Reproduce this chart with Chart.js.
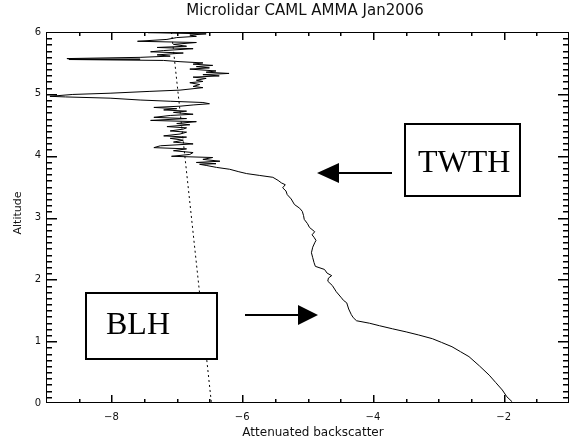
<!DOCTYPE html>
<html>
<head>
<meta charset="utf-8">
<script src="https://cdn.jsdelivr.net/npm/chart.js@4/dist/chart.umd.min.js"></script>
<style>
  body { margin: 0; background: #fff; }
  #wrap { width: 574px; height: 441px; position: relative; }
</style>
</head>
<body>
<div id="wrap"><canvas id="lidarChart"></canvas></div>
<script>
// Profil lidar (altitude km, backscatter log)
const altitude = [
  6.00, 5.99, 5.97, 5.95, 5.93, 5.91, 5.88, 5.85, 5.83, 5.80, 5.77, 5.75, 5.73, 5.70, 5.68, 5.66,
  5.63, 5.61, 5.59, 5.57, 5.565, 5.56, 5.555, 5.54, 5.52, 5.50, 5.48, 5.46, 5.44, 5.42, 5.40, 5.37,
  5.35, 5.33, 5.31, 5.29, 5.27, 5.25, 5.22, 5.20, 5.18, 5.15, 5.12, 5.10, 5.06, 5.04, 5.01, 4.99,
  4.96, 4.95, 4.93, 4.90, 4.88, 4.86, 4.84, 4.82, 4.80, 4.78, 4.76, 4.74, 4.72, 4.70, 4.67, 4.65,
  4.62, 4.60, 4.57, 4.55, 4.52, 4.50, 4.47, 4.45, 4.43, 4.40, 4.38, 4.35, 4.32, 4.30, 4.28, 4.25,
  4.22, 4.19, 4.16, 4.13, 4.11, 4.08, 4.05, 4.02, 3.99, 3.97, 3.94, 3.91, 3.89, 3.87, 3.86, 3.84,
  3.81, 3.78, 3.74, 3.71, 3.68, 3.65, 3.60, 3.56, 3.53, 3.48, 3.43, 3.37, 3.30, 3.21, 3.15, 3.10,
  3.03, 2.97, 2.90, 2.84, 2.77, 2.72, 2.68, 2.63, 2.59, 2.52, 2.43, 2.35, 2.27, 2.21, 2.16, 2.10,
  2.06, 2.02, 1.97, 1.90, 1.80, 1.70, 1.66, 1.62, 1.52, 1.43, 1.38, 1.33, 1.29, 1.25, 1.20, 1.15,
  1.10, 1.04, 0.98, 0.91, 0.83, 0.75, 0.60, 0.45, 0.33, 0.21, 0.10, 0.02
];
const backscatter = [
  -6.50, -7.44, -6.55, -6.80, -6.70, -7.00, -7.15, -7.60, -6.70, -7.05, -6.85, -7.30, -6.75, -7.20, -7.40, -6.90,
  -7.30, -7.10, -7.56, -8.68, -8.60, -7.56, -8.65, -7.20, -6.95, -6.60, -6.75, -6.45, -6.70, -6.50, -6.80, -6.40,
  -6.55, -6.20, -6.60, -6.35, -6.75, -6.55, -6.70, -6.60, -6.80, -6.65, -6.75, -6.60, -6.95, -7.41, -8.02, -8.59,
  -8.94, -8.70, -8.02, -7.56, -7.10, -6.60, -6.50, -6.75, -6.95, -7.35, -7.00, -7.20, -6.85, -7.05, -6.75, -7.10,
  -7.35, -6.85, -7.40, -6.70, -7.00, -6.80, -7.15, -6.85, -6.90, -7.10, -6.85, -6.95, -7.20, -6.85, -7.10, -6.90,
  -7.05, -6.75, -7.25, -7.35, -6.85, -7.05, -6.75, -6.80, -7.08, -6.45, -6.60, -6.34, -6.70, -6.40, -6.65, -6.54,
  -6.39, -6.19, -6.05, -5.93, -5.73, -5.53, -5.45, -5.40, -5.34, -5.38, -5.33, -5.31, -5.25, -5.20, -5.12, -5.08,
  -5.06, -5.05, -5.00, -4.97, -4.89, -4.93, -4.90, -4.87, -4.89, -4.92, -4.94, -4.92, -4.90, -4.88, -4.74, -4.70,
  -4.63, -4.68, -4.69, -4.62, -4.56, -4.48, -4.45, -4.40, -4.37, -4.33, -4.30, -4.25, -4.05, -3.90, -3.70, -3.49,
  -3.30, -3.09, -2.95, -2.79, -2.66, -2.53, -2.37, -2.22, -2.12, -2.02, -1.95, -1.87
];

// Signal moleculaire (pointillés)
const molAltitude = [6.0, 0.0];
const molBackscatter = [-7.08, -6.47];

// Ticks
const xTickValues = [-8, -6, -4, -2];
const yTickValues = [0, 1, 2, 3, 4, 5, 6];

const profilePoints = altitude.map((a, i) => ({ x: backscatter[i], y: a }));
const molPoints = molAltitude.map((a, i) => ({ x: molBackscatter[i], y: a }));

// Dessine titres, annotations puis le cadre style IDL
const idlFrame = {
  id: "idlFrame",
  afterDraw(chart) {
    const ctx = chart.ctx;
    const area = chart.chartArea;
    const left = area.left, right = area.right, top = area.top, bottom = area.bottom;

    // titres
    ctx.save();
    ctx.fillStyle = "#111";
    ctx.textAlign = "center";
    ctx.textBaseline = "middle";
    ctx.font = "15px 'DejaVu Sans'";
    ctx.fillText("Microlidar CAML AMMA Jan2006", 305, 11);
    ctx.font = "12px 'DejaVu Sans'";
    ctx.fillText("Attenuated backscatter", 313, 433);
    ctx.save();
    ctx.translate(18, 213);
    ctx.rotate(-Math.PI / 2);
    ctx.font = "11px 'DejaVu Sans'";
    ctx.fillText("Altitude", 0, 0);
    ctx.restore();

    // annotations
    ctx.lineWidth = 2;
    ctx.strokeStyle = "#000";
    ctx.fillStyle = "#fff";
    ctx.fillRect(405, 124, 115, 72);
    ctx.strokeRect(405, 124, 115, 72);
    ctx.fillRect(86, 293, 131, 66);
    ctx.strokeRect(86, 293, 131, 66);

    ctx.fillStyle = "#000";
    ctx.font = "32px 'Liberation Serif'";
    ctx.textAlign = "left";
    ctx.textBaseline = "alphabetic";
    ctx.fillText("TWTH", 418, 172);
    ctx.fillText("BLH", 106, 334);

    // fleches
    ctx.beginPath();
    ctx.moveTo(392, 173); ctx.lineTo(336, 173);
    ctx.moveTo(245, 315); ctx.lineTo(300, 315);
    ctx.stroke();
    ctx.beginPath();
    ctx.moveTo(317, 173); ctx.lineTo(339, 163); ctx.lineTo(339, 183); ctx.closePath();
    ctx.moveTo(318, 315); ctx.lineTo(298, 305); ctx.lineTo(298, 325); ctx.closePath();
    ctx.fill();
    ctx.restore();

    // cadre + ticks vers l'interieur
    ctx.save();
    ctx.globalAlpha = 1;
    ctx.fillStyle = "#000";
    ctx.fillRect(left, top, right - left, 1);
    ctx.fillRect(left, bottom - 1, right - left, 1);
    ctx.fillRect(left, top, 1, bottom - top);
    ctx.fillRect(right - 1, top, 1, bottom - top);
    for (let k = -17; k <= -3; k++) {
      const px = Math.round(left + (k / 2 + 9) / 8 * (right - left));
      const len = (k % 4 === 0) ? 8 : 4;
      ctx.fillRect(px, bottom - len, 1.5, len);
      ctx.fillRect(px, top, 1.5, len);
    }
    for (let k = 1; k < 60; k++) {
      const py = Math.round(bottom - (k / 60) * (bottom - top));
      const len = (k % 10 === 0) ? 11 : 6;
      ctx.fillRect(left, py, len, 1.5);
      ctx.fillRect(right - len, py, len, 1.5);
    }
    ctx.restore();
  }
};

const lidarCtx = document.getElementById("lidarChart").getContext("2d");
const lidarChart = new Chart(lidarCtx, {
  type: "scatter",
  data: {
    datasets: [
      {
        label: "profil",
        data: profilePoints,
        showLine: true,
        borderColor: "#000",
        borderWidth: 1,
        pointRadius: 0,
        tension: 0
      },
      {
        label: "moleculaire",
        data: molPoints,
        showLine: true,
        borderColor: "#000",
        borderWidth: 1,
        borderDash: [2, 3],
        pointRadius: 0
      }
    ]
  },
  options: {
    responsive: true,
    maintainAspectRatio: false,
    animation: false,
    layout: { padding: { top: 32, right: 5, left: 0, bottom: 0 } },
    plugins: {
      legend: { display: false },
      tooltip: { enabled: false },
      title: { display: false }
    },
    scales: {
      x: {
        type: "linear",
        min: -9,
        max: -1,
        afterBuildTicks: s => { s.ticks = xTickValues.map(v => ({ value: v })); },
        afterFit: s => { s.height = 38; },
        grid: { display: false, drawTicks: false },
        border: { display: false },
        ticks: {
          padding: 8,
          color: "#111",
          font: { family: "DejaVu Sans", size: 10 },
          callback: v => (v < 0 ? "\u2212" : "") + Math.abs(v)
        }
      },
      y: {
        type: "linear",
        min: 0,
        max: 6,
        afterBuildTicks: s => { s.ticks = yTickValues.map(v => ({ value: v })); },
        afterFit: s => { s.width = 46; },
        grid: { display: false, drawTicks: false },
        border: { display: false },
        ticks: {
          padding: 5,
          color: "#111",
          font: { family: "DejaVu Sans", size: 10 }
        }
      }
    }
  },
  plugins: [idlFrame]
});
</script>
</body>
</html>
